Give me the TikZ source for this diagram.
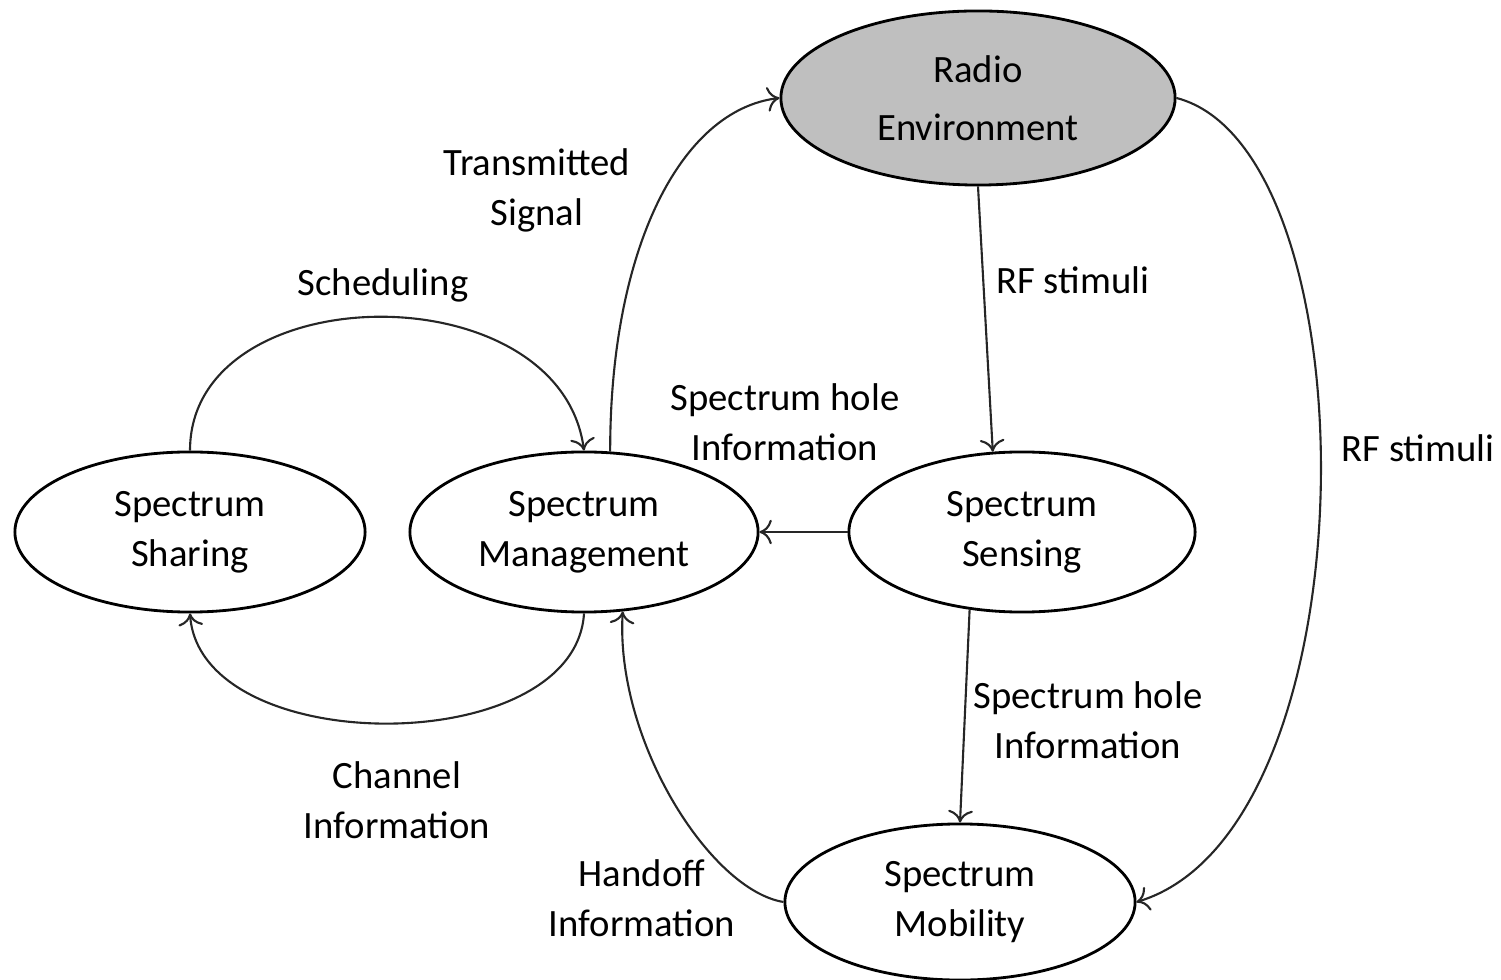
\documentclass[tikz,border=0pt]{standalone}
\usepackage{fontspec}
\setmainfont{Carlito}
\usepackage{xcolor}
\colorlet{colorRadio}{black!25}
\colorlet{colorEdge}{black!85}
\usetikzlibrary{arrows.meta, shapes.geometric}
\tikzset{
  block/.style={ellipse, draw, line width=0.8pt, inner sep=0pt, align=center,
    minimum width=3.5cm, minimum height=1.6cm, font=\fontsize{11}{14.2}\selectfont},
  label/.style={align=center, font=\fontsize{11}{14.2}\selectfont},
  link/.style={->, colorEdge, line width=0.6pt},
}

\begin{document}
\begin{tikzpicture}[x=0.01cm, y=-0.01cm, >={To[length=3.5pt,width=7pt]}]
\useasboundingbox (0,0) rectangle (1501,980);
\node[block, fill=colorRadio, minimum width=3.94cm, minimum height=1.74cm,
  font=\fontsize{11}{16.4}\selectfont] (radio) at (978,98) {Radio\\Environment};
\node[block] (sharing) at (190,532) {Spectrum\\Sharing};
\node[block, minimum width=3.48cm] (mgmt) at (584,532) {Spectrum\\Management};
\node[block, minimum width=3.46cm] (sensing) at (1022,532) {Spectrum\\Sensing};
\node[block, minimum height=1.56cm] (mobility) at (960,902) {Spectrum\\Mobility};
% connectors
\draw [link] (radio.south) -- (sensing.110);
\draw [link] (radio.east) .. controls (1375,150) and (1375,830) .. (mobility.east);
\draw [link] (mgmt.72) .. controls (610,250) and (680,110) .. (radio.west);
\draw [link] (sharing.north) .. controls (190,275) and (560,270) .. (mgmt.north);
\draw [link] (mgmt.south) .. controls (575,760) and (200,760) .. (sharing.south);
\draw [link] (sensing.west) -- (mgmt.east);
\draw [link] (sensing.236) -- (mobility.north);
\draw [link] (mobility.west) .. controls (710,890) and (615,740) .. (mgmt.296);
% labels
\node[label] (lTrans) at (537,190) {Transmitted\\Signal};
\node[label] (lSched) at (383,285) {Scheduling};
\node[label, anchor=west] (lRF1) at (984,280) {RF stimuli};
\node[label] (lHole1) at (785,422) {Spectrum hole\\Information};
\node[label] (lRF2) at (1418,448) {RF stimuli};
\node[label] (lHole2) at (1088,720) {Spectrum hole\\Information};
\node[label] (lChan) at (397,800) {Channel\\Information};
\node[label] (lHand) at (642,898) {Handoff\\Information};
\end{tikzpicture}
\end{document}
